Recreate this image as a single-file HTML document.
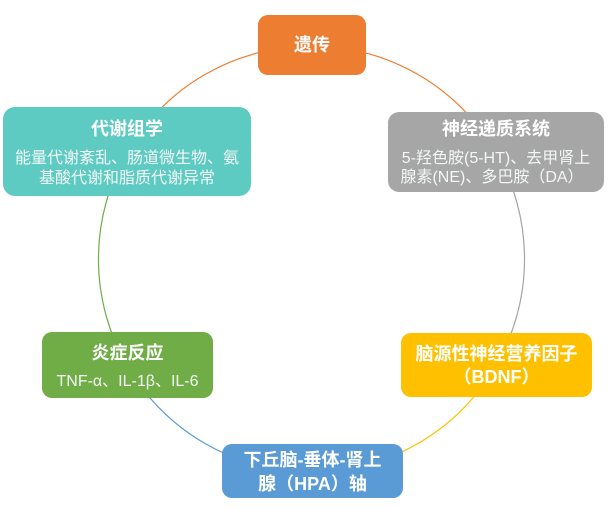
<!DOCTYPE html>
<html>
<head>
<meta charset="utf-8">
<style>
html,body{margin:0;padding:0;background:#fff;}
body{width:613px;height:508px;overflow:hidden;}
svg{display:block;}
.t{font-family:"Liberation Sans","Noto Sans CJK SC",sans-serif;font-size:18px;font-weight:bold;fill:#fff;text-anchor:middle;}
.s{font-family:"Liberation Sans","Noto Sans CJK SC",sans-serif;font-size:16px;fill:#f2f7f6;text-anchor:middle;}
</style>
</head>
<body>
<svg width="613" height="508" viewBox="0 0 613 508" xmlns="http://www.w3.org/2000/svg">
  <!-- circle arcs (center 311.5,259 r 213) -->
  <g fill="none" stroke-width="1.2">
    <path d="M127 152.5 A213 213 0 0 1 496 152.5" stroke="#ED7D31"/>
    <path d="M496 152.5 A213 213 0 0 1 496 365.5" stroke="#A5A5A5"/>
    <path d="M496 365.5 A213 213 0 0 1 311.5 472" stroke="#FFC000"/>
    <path d="M311.5 472 A213 213 0 0 1 127 365.5" stroke="#5B9BD5"/>
    <path d="M127 365.5 A213 213 0 0 1 127 152.5" stroke="#70AD47"/>
  </g>

  <!-- Orange -->
  <rect x="258" y="15" width="108" height="60" rx="10" fill="#ED7D31"/>
  <text class="t" x="312" y="51">遗传</text>

  <!-- Teal -->
  <rect x="3" y="107" width="248" height="89" rx="12" fill="#5ECBC2"/>
  <text class="t" x="127" y="135">代谢组学</text>
  <text class="s" x="127" y="163">能量代谢紊乱、肠道微生物、氨</text>
  <text class="s" x="127" y="183">基酸代谢和脂质代谢异常</text>

  <!-- Gray -->
  <rect x="388" y="112" width="216" height="80" rx="11" fill="#A6A6A6"/>
  <text class="t" x="496" y="135">神经递质系统</text>
  <text class="s" x="496" y="163">5-羟色胺(5-HT)、去甲肾上</text>
  <text class="s" x="492" y="182">腺素(NE)、多巴胺（DA）</text>

  <!-- Green -->
  <rect x="42" y="332" width="171" height="66" rx="10" fill="#70AD47"/>
  <text class="t" x="127.5" y="359">炎症反应</text>
  <text class="s" x="127.5" y="386">TNF-α、IL-1β、IL-6</text>

  <!-- Yellow -->
  <rect x="401" y="333" width="191" height="64" rx="10" fill="#FFC000"/>
  <text class="t" x="496.5" y="360">脑源性神经营养因子</text>
  <text class="t" x="496.5" y="383">（BDNF）</text>

  <!-- Blue -->
  <rect x="222" y="444" width="181" height="54" rx="10" fill="#5B9BD5"/>
  <text class="t" x="312.5" y="466">下丘脑-垂体-肾上</text>
  <text class="t" x="312.5" y="490">腺（HPA）轴</text>
</svg>
</body>
</html>
